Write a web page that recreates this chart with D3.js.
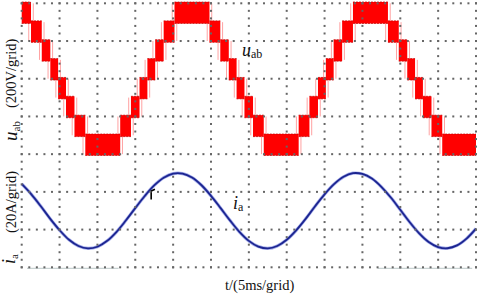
<!DOCTYPE html>
<html><head><meta charset="utf-8">
<script src="https://cdn.jsdelivr.net/npm/d3@7"></script>
<style>
html,body{margin:0;padding:0;background:#fff;}
svg{display:block;}
text{font-family:"Liberation Serif","Times New Roman","DejaVu Serif",serif;fill:#111;}
</style></head>
<body>
<svg id="chart" width="480" height="297"></svg>
<script>
// ---- data ----
// time axis: 12 grids x 5 ms
const timeTicks = d3.range(0, 61, 5);          // ms, major grid lines
const gridDivisions = 7;                        // vertical divisions
// multilevel line voltage u_ab: band edges (ms) and lower level of each PWM band (V)
const uBandEdges = [0, 1.23, 2.65, 3.78, 4.81, 5.85, 6.97, 8.40, 13.01, 14.43, 15.56, 16.60, 17.63, 18.75, 20.18,
  24.80, 26.23, 27.35, 28.38, 29.42, 30.55, 31.97, 36.58, 38.00, 39.13, 40.17, 41.20, 42.32, 43.75,
  48.37, 49.80, 50.92, 51.95, 52.99, 54.12, 55.54, 60];
const uBandLow = [300, 200, 100, 0, -100, -200, -300, -400,
  -300, -200, -100, 0, 100, 200, 300,
  200, 100, 0, -100, -200, -300, -400,
  -300, -200, -100, 0, 100, 200, 300,
  200, 100, 0, -100, -200, -300, -400];
const uLevelStep = 100;  // V between levels
// phase current i_a (A), sampled every 1.25 ms
const iTime = d3.range(0, 60.01, 1.25);
const iValues = [14.2, 8.8, 2.5, -4.2, -10.3, -15.4, -18.7, -20.0, -19.1, -16.1, -11.3, -5.2, 1.4, 7.8, 13.4, 17.5,
  19.7, 19.7, 17.6, 13.5, 7.9, 1.5, -5.1, -11.2, -16.0, -19.0, -20.0, -18.7, -15.4, -10.4, -4.3, 2.4, 8.7,
  14.1, 18.0, 19.9, 19.5, 17.1, 12.7, 7.0, 0.5, -6.1, -12.0, -16.6, -19.3, -19.9, -18.4, -14.8, -9.5];

// ---- scales ----
const svg = d3.select("#chart");
const x = d3.scaleLinear().domain([0, 60]).range([21.7, 476]);
const yDiv = d3.scaleLinear().domain([0, gridDivisions]).range([267.3, 3.3]);
const yU = d3.scaleLinear().domain([-400, 400]).range([yDiv(3), yDiv(7)]);
const yI = d3.scaleLinear().domain([-20, 20]).range([yDiv(0.5), yDiv(2.5)]);

// ---- voltage bands ----
const bands = uBandLow.map((lo, k) => ({t0: uBandEdges[k], t1: uBandEdges[k + 1], lo, hi: lo + uLevelStep}));
const gU = svg.append("g");
// switching slivers near each level change
const slivers = [];
for (let k = 1; k < bands.length; k++) {
  const a = bands[k - 1], b = bands[k];
  const lo = Math.min(a.lo, b.lo), hi = Math.max(a.hi, b.hi);
  slivers.push({t: b.t0 - 0.3, lo, hi});
  slivers.push({t: b.t0 + 0.3, lo, hi});
}
gU.selectAll("line.sl").data(slivers).join("line").attr("class", "sl")
  .attr("x1", d => x(d.t)).attr("x2", d => x(d.t))
  .attr("y1", d => yU(d.hi)).attr("y2", d => yU(d.lo))
  .attr("stroke", "#ff3a3a").attr("stroke-width", 0.8).attr("stroke-opacity", 0.6);
gU.selectAll("rect").data(bands).join("rect")
  .attr("x", d => x(d.t0)).attr("width", d => x(d.t1) - x(d.t0))
  .attr("y", d => yU(d.hi) - 1.3).attr("height", d => yU(d.lo) - yU(d.hi) + 2.6)
  .attr("fill", "#ff0000");
gU.selectAll("line.edge").data(bands.flatMap(d => [{t0: d.t0, t1: d.t1, v: d.hi, o: -1.3}, {t0: d.t0, t1: d.t1, v: d.lo, o: 1.3}]))
  .join("line").attr("class", "edge")
  .attr("x1", d => x(d.t0)).attr("x2", d => x(d.t1))
  .attr("y1", d => yU(d.v) + d.o).attr("y2", d => yU(d.v) + d.o)
  .attr("stroke", "#c00000").attr("stroke-width", 0.7).attr("stroke-dasharray", "2,1");

// ---- current ----
const line = d3.line().x((d, k) => x(iTime[k])).y(d => yI(d)).curve(d3.curveCatmullRom);
svg.append("path").datum(iValues).attr("d", line).attr("fill", "none")
  .attr("stroke", "#4a5ad8").attr("stroke-width", 3.2).attr("stroke-opacity", 0.5);
svg.append("path").datum(iValues).attr("d", line).attr("fill", "none")
  .attr("stroke", "#1c2590").attr("stroke-width", 1.8);

// cursor marker
svg.append("path").attr("d", `M${x(17.1)},${yDiv(1.8)} L${x(17.1)},${yDiv(2.02)} L${x(17.6)},${yDiv(2.07)}`)
  .attr("fill", "none").attr("stroke", "#000").attr("stroke-width", 1.6);

// faint trace artefacts on bottom line
[[0.7, 12.8], [47.0, 59.5]].forEach(([a, b]) =>
  svg.append("line").attr("x1", x(a)).attr("x2", x(b)).attr("y1", yDiv(0) + 1).attr("y2", yDiv(0) + 1)
    .attr("stroke", "#c9d3d3").attr("stroke-width", 1.2));

// ---- dotted grid ----
const gG = svg.append("g").attr("fill", "#666");
const minorY = d3.range(0, gridDivisions * 5 + 1).map(j => j / 5);
timeTicks.forEach(t => {
  gG.selectAll(null).data(minorY).join("rect")
    .attr("x", x(t) - 1).attr("y", d => yDiv(d) - 1).attr("width", 2).attr("height", 2);
});
const minorX = d3.range(0, 61, 1);
d3.range(0, gridDivisions + 1).forEach(j => {
  gG.selectAll(null).data(minorX).join("rect")
    .attr("x", d => x(d) - 1).attr("y", yDiv(j) - 1).attr("width", 2).attr("height", 2);
});

// ---- labels ----
const tu = svg.append("text").attr("x", 242).attr("y", 55.5);
tu.append("tspan").text("u").attr("font-style", "italic").attr("font-size", 18);
tu.append("tspan").text("ab").attr("font-size", 12).attr("dy", 2);

const ti = svg.append("text").attr("x", 233).attr("y", 209);
ti.append("tspan").text("i").attr("font-style", "italic").attr("font-size", 18);
ti.append("tspan").text("a").attr("font-size", 12).attr("dy", 2);

svg.append("text").attr("x", 225).attr("y", 290).attr("font-size", 14.5).text("t/(5ms/grid)");

// rotated axis labels
const lu = svg.append("text").attr("transform", "translate(17,141) rotate(-90)");
lu.append("tspan").text("u").attr("font-style", "italic").attr("font-size", 19);
lu.append("tspan").text("ab").attr("font-size", 11).attr("dy", 3);
svg.append("text").attr("transform", "translate(15.5,108) rotate(-90)").attr("font-size", 14.5).text("(200V/grid)");

const li = svg.append("text").attr("transform", "translate(15,264) rotate(-90)");
li.append("tspan").text("i").attr("font-style", "italic").attr("font-size", 18);
li.append("tspan").text("a").attr("font-size", 11).attr("dy", 3);
svg.append("text").attr("transform", "translate(15.5,233) rotate(-90)").attr("font-size", 14.5).text("(20A/grid)");
</script>
</body></html>
